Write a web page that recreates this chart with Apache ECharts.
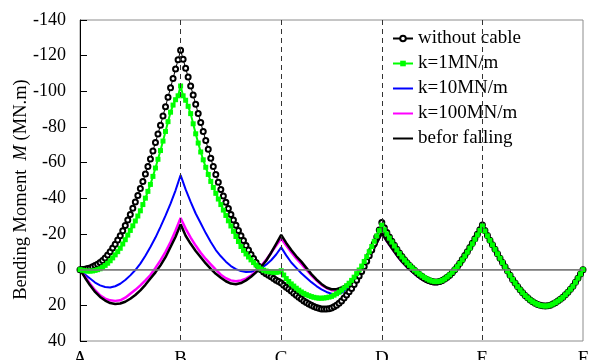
<!DOCTYPE html>
<html>
<head>
<meta charset="utf-8">
<script src="https://cdn.jsdelivr.net/npm/echarts@6/dist/echarts.min.js"></script>
<style>
  html, body { margin: 0; padding: 0; background: #fff; }
  #chart { width: 589px; height: 360px; }
</style>
</head>
<body>
<div id="chart"></div>
<script>
// support positions along the girder
const supportLabels = ["A", "B", "C", "D", "E", "F"];

// sampling positions (in spans): markers every 0.025, lines every 0.05
const markX = Array.from({ length: 201 }, (_, i) => +(i * 0.025).toFixed(3));
const lineX = Array.from({ length: 101 }, (_, i) => +(i * 0.05).toFixed(2));

// without cable (MN.m), read every 0.025 span
const withoutCable = [
  // A-B
  0, -0.1, -0.3, -0.6, -1, -1.6, -2.3, -3.1, -4, -5.2, -6.6, -8.2, -10, -12.1, -14.3, -16.6, -19, -21.8, -24.7, -27.8,
  -31, -34.4, -37.9, -41.6, -45.5, -49.5, -53.6, -57.8, -62, -66.6, -71.3, -76.1, -81, -86.2, -91.4, -96.7, -102, -107.2, -112.5, -117.7, -123,
  // B-C
  -118, -113, -108, -103, -97.9, -92.8, -87.6, -82.5, -77.5, -72.5, -67.5, -62.5, -57.8, -53.3, -49, -45, -41.3, -37.8, -34.3, -31,
  -27.9, -24.9, -21.9, -19, -16.3, -13.6, -11, -8.5, -6.2, -4, -1.9, 0, 1.3, 2.3, 3.2, 4, 5, 5.9, 6.7, 7.5,
  // C-D
  8.7, 9.8, 10.9, 12, 13.2, 14.3, 15.4, 16.5, 17.5, 18.4, 19.2, 20, 20.6, 21.2, 21.6, 22, 22.1, 22.1, 21.9, 21.5,
  20.8, 19.9, 18.8, 17.5, 15.9, 14.2, 12.4, 10.5, 8.3, 6, 3.6, 1, -1.8, -4.7, -7.8, -11, -14.6, -18.3, -22.3, -26.5,
  // D-E
  -23.5, -20.8, -18.3, -16, -13.7, -11.5, -9.4, -7.4, -5.6, -3.9, -2.4, -1, 0.3, 1.6, 2.8, 3.9, 4.8, 5.6, 6.2, 6.7,
  6.9, 6.9, 6.6, 6.1, 5.3, 4.3, 3.1, 1.7, 0.1, -1.7, -3.6, -5.7, -7.9, -10.1, -12.4, -14.8, -17.3, -19.8, -22.4, -25,
  // E-F
  -22, -19.2, -16.5, -14, -11.4, -8.9, -6.4, -4, -1.6, 0.8, 3.2, 5.5, 7.5, 9.5, 11.3, 13, 14.5, 15.8, 17, 18,
  18.8, 19.5, 20, 20.3, 20.4, 20.3, 19.9, 19.3, 18.5, 17.6, 16.6, 15.5, 14.1, 12.6, 11, 9.3, 7.1, 4.8, 2.4, 0
];

// k = 1 MN/m, read every 0.025 span
const k1 = [
  // A-B
  0, 0.3, 0.6, 0.8, 0.8, 0.7, 0.4, 0, -0.5, -1.4, -2.4, -3.6, -5, -6.6, -8.3, -10.1, -12, -14.4, -16.8, -19.4,
  -22, -24.6, -27.3, -30.1, -33, -36.5, -40.1, -43.9, -47.8, -52.3, -57, -61.9, -66.8, -72.1, -77.5, -83, -88.3, -92.3, -95.3, -97.5, -103,
  // B-C
  -97.5, -95, -91.6, -87.5, -81.8, -76.2, -71, -66, -61.6, -57.4, -53.4, -49.5, -46.1, -42.8, -39.6, -36.5, -33.4, -30.4, -27.4, -24.5,
  -21.5, -18.6, -15.8, -13, -10.8, -8.8, -7.1, -5.5, -4, -2.6, -1.4, -0.4, 0.3, 0.8, 1.1, 1.3, 1.5, 1.5, 1.3, 0.6,
  // C-D
  3, 5, 6.6, 8, 9.2, 10.4, 11.5, 12.5, 13.3, 14, 14.6, 15.1, 15.5, 15.8, 16, 16, 15.9, 15.7, 15.4, 15,
  14.3, 13.5, 12.6, 11.5, 10.3, 9, 7.6, 6, 4.2, 2.2, 0.2, -2, -4.6, -7.3, -10.1, -13, -15.9, -18.9, -21.9, -25,
  // D-E
  -22.4, -20, -17.7, -15.5, -13.3, -11.1, -9, -7.1, -5.4, -3.8, -2.4, -1.1, 0.2, 1.4, 2.5, 3.5, 4.4, 5.2, 5.9, 6.4,
  6.7, 6.7, 6.5, 6, 5.2, 4.1, 2.9, 1.5, 0, -1.7, -3.5, -5.5, -7.6, -9.8, -12.1, -14.5, -17, -19.5, -22, -24.5,
  // E-F
  -21.7, -19, -16.4, -13.9, -11.4, -8.9, -6.4, -4, -1.6, 0.8, 3.2, 5.5, 7.5, 9.5, 11.3, 13, 14.5, 15.8, 17, 18,
  18.8, 19.5, 20, 20.3, 20.4, 20.3, 19.9, 19.3, 18.5, 17.6, 16.6, 15.5, 14.1, 12.6, 11, 9.3, 7.1, 4.8, 2.4, 0
];

// k = 10 MN/m, read every 0.05 span
const k10 = [
  0, 2.8, 5, 7.2, 8.8, 9.7, 10, 9.3, 7.9, 5.8, 3.2, 0.2, -3.4, -7.8, -12.7, -18, -24, -30.3, -37, -44.5, -53,
  -45, -38, -31.5, -26, -20.5, -15.5, -11, -7.5, -4.5, -2, -0.3, 0.8, 1.3, 1.2, 0.5, -0.8, -2.8, -5.3, -8.5, -12.5,
  -8, -4, -1, 2, 4.5, 7, 9.2, 11, 12.5, 13.5, 13.8, 13, 11, 8, 4, 0, -4.5, -9.5, -15, -20.5,
  -16, -12, -8, -4.5, -1.5, 1, 3.5, 5.5, 7, 8, 8, 7.3, 5.5, 3, 0, -4, -8.5, -13.5, -19, -24,
  -19, -14, -9, -4, 1, 5.5, 9.5, 13, 16, 18, 19.5, 20.3, 20.3, 19.3, 17.7, 15.5, 12.7, 9.3, 5, 0
];

// k = 100 MN/m, read every 0.05 span
const k100 = [
  0, 4, 7.9, 11.5, 14.4, 16.2, 17.2, 17.5, 17.2, 15.7, 13.5, 11.3, 8.8, 6, 3, -1, -5.2, -10, -15.5, -22, -29,
  -23, -18, -13.5, -9.5, -6, -3, 0, 2.8, 4.8, 6, 6.5, 6, 5, 3.3, 1, -2, -5.5, -9.5, -13.5, -17.5,
  -13.5, -9.8, -6.3, -3.2, 0, 3.2, 6, 8.5, 10.3, 11.5, 11.8, 11, 9.3, 6.7, 3.3, -0.5, -4.5, -9.5, -15, -20.5,
  -16, -12, -8, -4.5, -1.5, 1, 3.5, 5.5, 7, 8, 8, 7.3, 5.5, 3, 0, -4, -8.5, -13.5, -19, -24,
  -19, -14, -9, -4, 1, 5.5, 9.5, 13, 16, 18, 19.5, 20.3, 20.3, 19.3, 17.7, 15.5, 12.7, 9.3, 5, 0
];

// before falling, read every 0.05 span
const beforFalling = [
  0, 4.5, 8.8, 12.5, 15.3, 17.3, 18.7, 19.2, 19, 18, 16.3, 14.2, 11.6, 8.5, 5, 1.5, -2.4, -7, -12.7, -18.5, -25.4,
  -19, -14.5, -10.5, -7, -3.5, -0.5, 2.3, 4.5, 6.5, 7.8, 8.2, 7.5, 6, 4, 1.5, -1.5, -5, -9.5, -14.5, -19.5,
  -15, -11, -7.5, -4.5, -1, 2.5, 5.5, 8, 10, 11, 11, 10, 8.5, 6, 3, -0.5, -4.5, -9.5, -15, -20.5,
  -16, -12, -8, -4.5, -1.5, 1, 3.5, 5.5, 7, 8, 8, 7.3, 5.5, 3, 0, -4, -8.5, -13.5, -19, -24,
  -19, -14, -9, -4, 1, 5.5, 9.5, 13, 16, 18, 19.5, 20.3, 20.3, 19.3, 17.7, 15.5, 12.7, 9.3, 5, 0
];

const pairUp = (xs, ys) => xs.map((x, i) => [x, ys[i]]);

const serif = "'Liberation Serif', 'Times New Roman', serif";

const chart = echarts.init(document.getElementById("chart"));

// plain lines get no marker in the legend
const noMarker = { opacity: 0 };

const option = {
  animation: false,
  backgroundColor: "#fff",
  textStyle: { fontFamily: serif, color: "#000" },
  grid: {
    left: 80,
    right: 6,
    top: 20,
    bottom: 19,
    outerBoundsMode: "none",
    show: true,
    borderColor: "#8c8c8c",
    borderWidth: 1,
  },
  legend: {
    data: [
      { name: "without cable" },
      { name: "k=1MN/m" },
      { name: "k=10MN/m", itemStyle: noMarker },
      { name: "k=100MN/m", itemStyle: noMarker },
      { name: "befor falling", itemStyle: noMarker },
    ],
    orient: "vertical",
    left: 378,
    top: 24,
    padding: [5, 10, 4, 14],
    backgroundColor: "#fff",
    itemWidth: 20,
    itemHeight: 7,
    itemGap: 6,
    textStyle: {
      fontFamily: serif,
      fontSize: 19,
      lineHeight: 18,
      color: "#000",
    },
  },
  xAxis: {
    type: "value",
    min: 0,
    max: 5,
    interval: 1,
    axisLine: { lineStyle: { color: "#8c8c8c", width: 1 } },
    axisTick: { show: false },
    splitLine: { show: false },
    axisLabel: {
      margin: 9,
      fontSize: 19,
      fontFamily: serif,
      color: "#000",
      formatter: (v) => supportLabels[Math.round(v)],
    },
  },
  yAxis: {
    type: "value",
    inverse: true,
    min: -140,
    max: 40,
    interval: 20,
    name: "{a|Bending Moment  }{b|M}{a| (MN.m)}",
    nameLocation: "middle",
    nameGap: 49,
    nameMoveOverlap: false,
    nameTextStyle: {
      padding: [0, 18, 0, 0],
      rich: {
        a: { fontFamily: serif, fontSize: 18.5, color: "#000" },
        b: { fontFamily: serif, fontSize: 18.5, fontStyle: "italic", color: "#000" },
      },
    },
    axisLine: { lineStyle: { color: "#000", width: 1 } },
    axisTick: { inside: true, length: 7, lineStyle: { color: "#000" } },
    splitLine: { show: false },
    axisLabel: {
      margin: 14,
      fontSize: 18,
      fontFamily: serif,
      color: "#000",
    },
  },
  series: [
    {
      name: "k=10MN/m",
      type: "line",
      data: pairUp(lineX, k10),
      symbol: "none",
      lineStyle: { color: "#0000ff", width: 2 },
      itemStyle: { color: "#0000ff" },
      markLine: {
        silent: true,
        symbol: "none",
        label: { show: false },
        data: [
          { yAxis: 0, lineStyle: { color: "#7a7a7a", width: 1.5, type: "solid" } },
          { xAxis: 1, lineStyle: { color: "#333", width: 1, type: [5, 4] } },
          { xAxis: 2, lineStyle: { color: "#333", width: 1, type: [5, 4] } },
          { xAxis: 3, lineStyle: { color: "#333", width: 1, type: [5, 4] } },
          { xAxis: 4, lineStyle: { color: "#333", width: 1, type: [5, 4] } },
        ],
      },
    },
    {
      name: "k=100MN/m",
      type: "line",
      data: pairUp(lineX, k100),
      symbol: "none",
      lineStyle: { color: "#ff00ff", width: 2.5 },
      itemStyle: { color: "#ff00ff" },
    },
    {
      name: "befor falling",
      type: "line",
      data: pairUp(lineX, beforFalling),
      symbol: "none",
      lineStyle: { color: "#000", width: 2.5 },
      itemStyle: { color: "#000" },
    },
    {
      name: "without cable",
      type: "line",
      data: pairUp(markX, withoutCable),
      symbol: "emptyCircle",
      symbolSize: 5,
      showAllSymbol: true,
      lineStyle: { color: "#000", width: 1 },
      itemStyle: { color: "#000", borderColor: "#000", borderWidth: 1 },
    },
    {
      name: "k=1MN/m",
      type: "line",
      data: pairUp(markX, k1),
      symbol: "rect",
      symbolSize: 5,
      showAllSymbol: true,
      lineStyle: { color: "#00ff00", width: 2 },
      itemStyle: { color: "#00ff00" },
    },
  ],
};

chart.setOption(option);
</script>
</body>
</html>
